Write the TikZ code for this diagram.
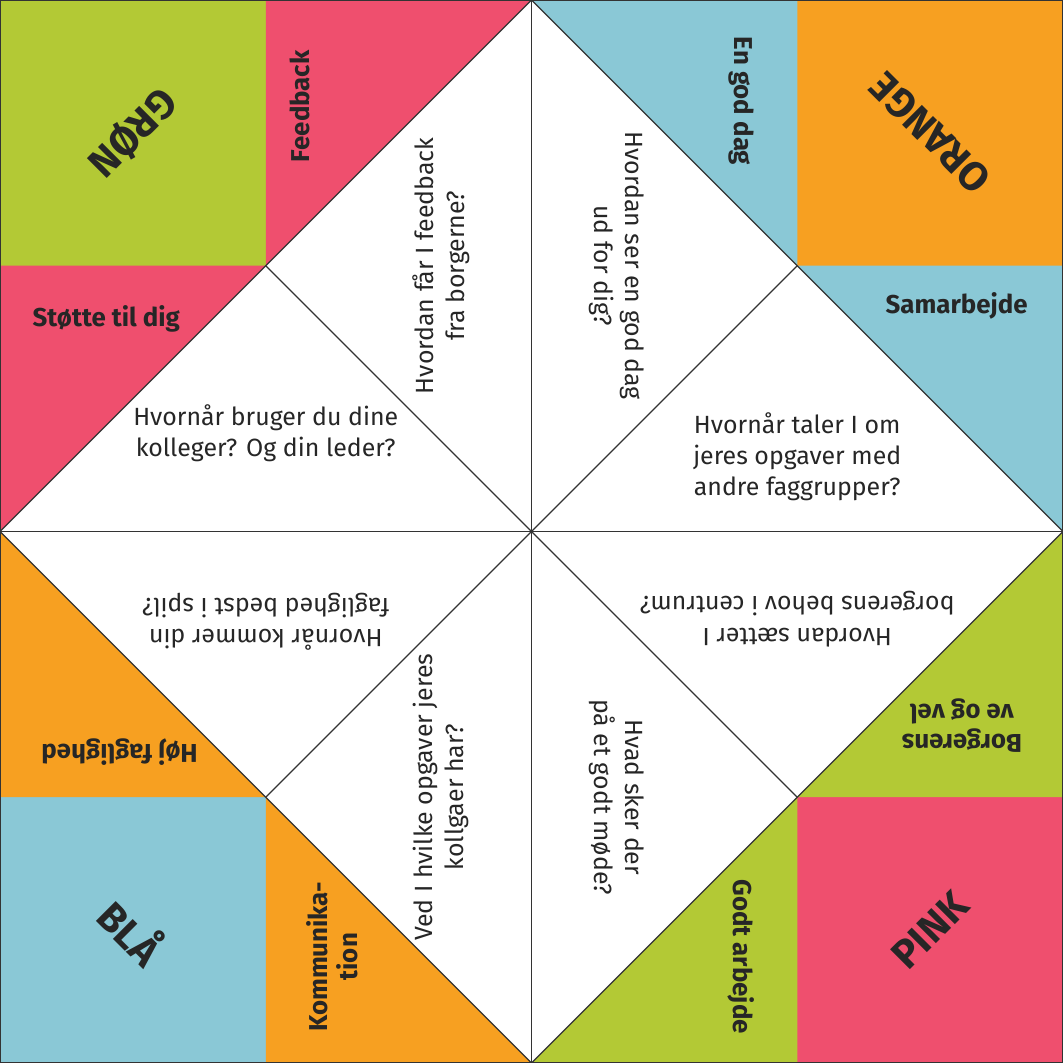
\documentclass[tikz,border=0pt]{standalone}
\usepackage{fontspec}
\setmainfont{Fira Sans}
\usepackage{xcolor}
\definecolor{groen}{HTML}{B3C935}
\definecolor{pinkish}{HTML}{EF4F6E}
\definecolor{blaa}{HTML}{8AC8D6}
\definecolor{orangeish}{HTML}{F7A021}
\usetikzlibrary{positioning}
\tikzset{
  corner/.style={font=\fontsize{13}{13}\selectfont\bfseries, text=black!85},
  flap/.style={font=\fontsize{8.3}{9.5}\selectfont\bfseries, text=black!85, align=center},
  question/.style={font=\fontsize{8}{10}\selectfont, text=black!85, align=center},
}
\begin{document}
\begin{tikzpicture}[x=3cm, y=3cm]
\useasboundingbox (0,0) rectangle (4,4);

% corner squares
\fill[groen] (0,3) rectangle (1,4);
\fill[orangeish] (3,3) rectangle (4,4);
\fill[blaa] (0,0) rectangle (1,1);
\fill[pinkish] (3,0) rectangle (4,1);

% flaps
\fill[pinkish] (1,3) -- (1,4) -- (2,4) -- cycle;
\fill[pinkish] (0,2) -- (0,3) -- (1,3) -- cycle;
\fill[blaa] (2,4) -- (3,4) -- (3,3) -- cycle;
\fill[blaa] (3,3) -- (4,3) -- (4,2) -- cycle;
\fill[groen] (4,2) -- (4,1) -- (3,1) -- cycle;
\fill[groen] (3,1) -- (3,0) -- (2,0) -- cycle;
\fill[orangeish] (0,2) -- (0,1) -- (1,1) -- cycle;
\fill[orangeish] (1,1) -- (1,0) -- (2,0) -- cycle;

% fold lines
\draw[black!80, thin] (0,2) -- (2,4) -- (4,2) -- (2,0) -- cycle;
\draw[black!80, thin] (1,3) -- (3,1);
\draw[black!80, thin] (3,3) -- (1,1);
\draw[black!80, thin] (2,0) -- (2,4);
\draw[black!80, thin] (0,2) -- (4,2);
\draw[black!80, thin] (0,0) rectangle (4,4);

% corner labels
\node[corner, rotate=225] (groenlabel) at (0.5,3.5) {GRØN};
\node[corner, rotate=135] (orangelabel) at (3.5,3.5) {ORANGE};
\node[corner, rotate=-45] (blaalabel) at (0.5,0.5) {BLÅ};
\node[corner, rotate=45] (pinklabel) at (3.5,0.5) {PINK};

% flap labels
\node[flap, rotate=90] (feedback) at (1.13,3.6) {Feedback};
\node[flap] (stoette) at (0.4,2.8) {Støtte til dig};
\node[flap, rotate=-90] (goddag) at (2.79,3.62) {En god dag};
\node[flap] (samarbejde) at (3.6,2.85) {Samarbejde};
\node[flap, rotate=180] (borgerens) at (3.62,1.27) {Borgerens\\ve og vel};
\node[flap, rotate=-90] (godtarbejde) at (2.79,0.4) {Godt arbejde};
\node[flap, rotate=180] (hoej) at (0.45,1.17) {Høj faglighed};
\node[flap, rotate=90] (kommunikation) at (1.25,0.4) {Kommunika-\\tion};

% questions
\node[question, rotate=90] (q1) at (1.66,3) {Hvordan får I feedback\\fra borgerne?};
\node[question, rotate=-90] (q2) at (2.32,3) {Hvordan ser en god dag\\ud for dig?};
\node[question] (q3) at (1,2.37) {Hvornår bruger du dine\\kolleger? Og din leder?};
\node[question] (q4) at (3,2.28) {Hvornår taler I om\\jeres opgaver med\\andre faggrupper?};
\node[question, rotate=180] (q5) at (3,1.67) {Hvordan sætter I\\borgerens behov i centrum?};
\node[question, rotate=-90] (q6) at (2.32,1) {Hvad sker der\\på et godt møde?};
\node[question, rotate=180] (q7) at (1,1.66) {Hvornår kommer din\\faglighed bedst i spil?};
\node[question, rotate=90] (q8) at (1.66,1) {Ved I hvilke opgaver jeres\\kollgaer har?};
\end{tikzpicture}
\end{document}
